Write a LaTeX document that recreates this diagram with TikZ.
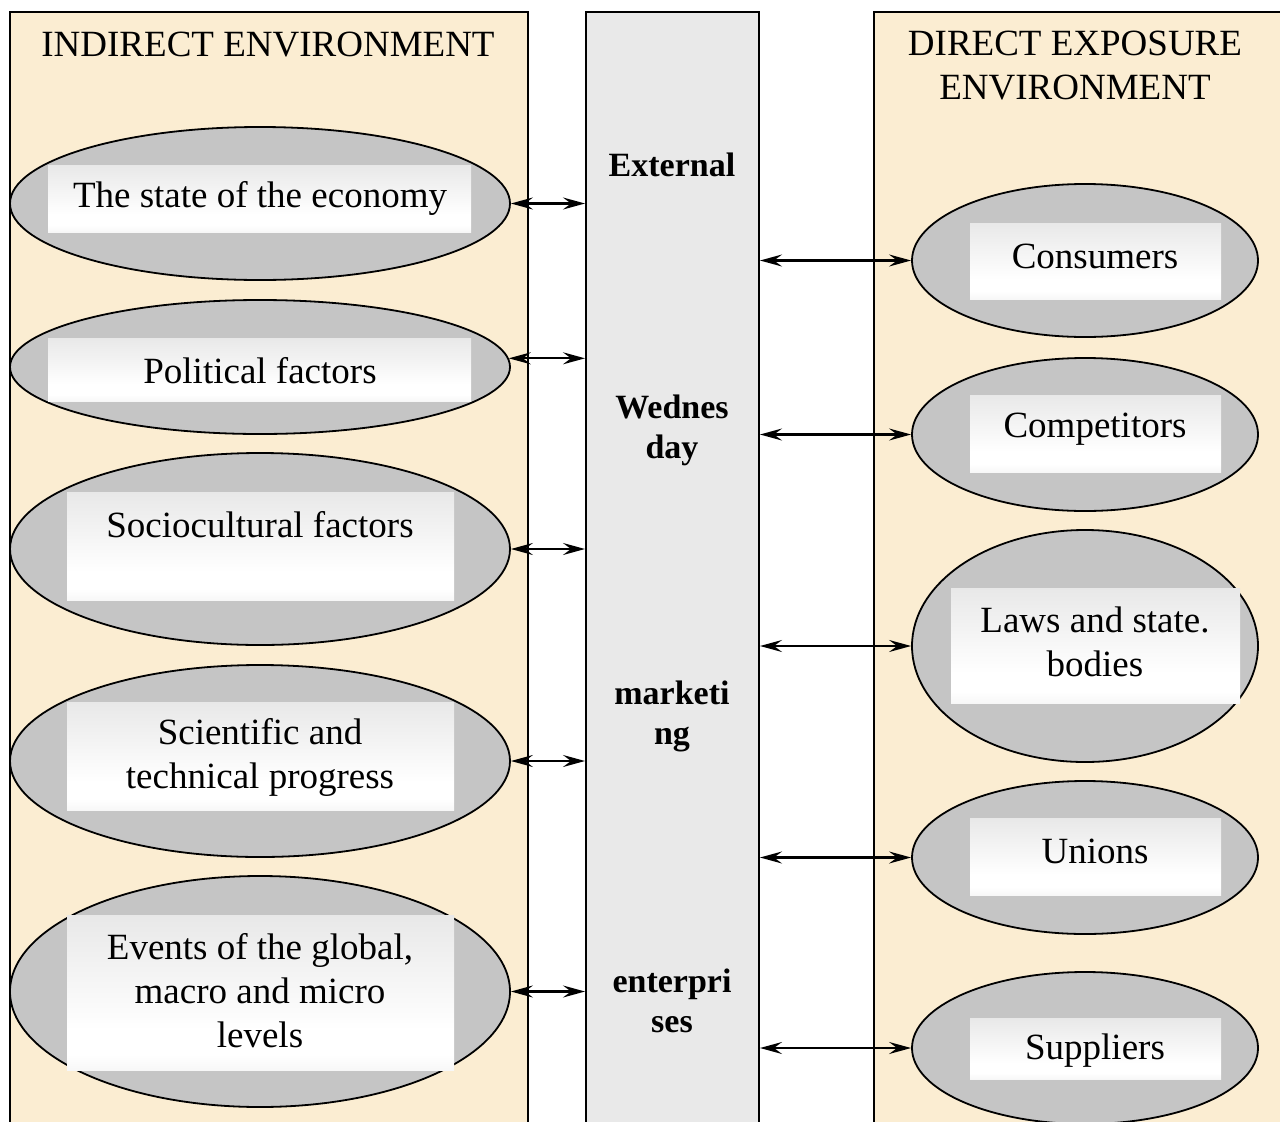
\documentclass[tikz,border=0pt]{standalone}
\usepackage{fontspec}
\setmainfont{Liberation Serif}
\usetikzlibrary{shapes.geometric,arrows.meta}
\definecolor{paper}{RGB}{251,237,210}
\definecolor{stone}{RGB}{233,233,233}
\definecolor{oval}{RGB}{197,197,197}
\pgfdeclareverticalshading{plateshade}{100bp}{color(0bp)=(gray!36); color(30bp)=(white); color(38bp)=(white); color(100bp)=(gray!30)}
\tikzset{
  panel/.style={draw, line width=2pt, fill=paper, inner sep=0pt},
  column/.style={draw, line width=2pt, fill=stone, inner sep=0pt},
  factor/.style={ellipse, draw, line width=1.8pt, fill=oval, inner sep=0pt},
  plate/.style={rectangle, inner sep=0pt, shading=plateshade},
  link/.style={{Stealth[length=22pt,width=12pt,inset=8pt]}-{Stealth[length=22pt,width=12pt,inset=8pt]}, line width=2.2pt},
  bigtxt/.style={font=\fontsize{37}{44}\selectfont, align=center, inner sep=0pt},
  midtxt/.style={font=\fontsize{34}{40}\selectfont\bfseries, align=center, inner sep=0pt}
}
\begin{document}
\begin{tikzpicture}[x=1pt,y=-1pt]
\useasboundingbox (0,0) rectangle (1280,1122);
\clip (0,0) rectangle (1280,1122);

% three columns
\node[panel, minimum width=518pt, minimum height=1140pt] (ind) at (269,582) {};
\node[column, minimum width=173pt, minimum height=1140pt] (col) at (672.5,582) {};
\node[panel, minimum width=440pt, minimum height=1140pt] (dir) at (1094,582) {};

\node[bigtxt] (indtitle) at (268,45) {INDIRECT ENVIRONMENT};
\node[bigtxt] (dirtitle) at (1075,66) {DIRECT EXPOSURE\\ENVIRONMENT};

\node[midtxt] (w1) at (672,165) {External};
\node[midtxt] (w2) at (672,430) {Wednes\\day};
\node[midtxt] (w3) at (672,716) {marketi\\ng};
\node[midtxt] (w4) at (672,1001) {enterpri\\ses};

% indirect factors
\node[factor, minimum width=500pt, minimum height=153pt] (e1) at (260,203.5) {};
\node[factor, minimum width=500pt, minimum height=134pt] (e2) at (260,367) {};
\node[factor, minimum width=500pt, minimum height=192pt] (e3) at (260,549) {};
\node[factor, minimum width=500pt, minimum height=192pt] (e4) at (260,761) {};
\node[factor, minimum width=500pt, minimum height=231pt] (e5) at (260,991.5) {};

\node[plate, minimum width=423pt, minimum height=67pt] (p1) at (259.5,198.5) {};
\node[plate, minimum width=423pt, minimum height=63pt] (p2) at (259.5,369.5) {};
\node[plate, minimum width=387pt, minimum height=108pt] (p3) at (260.5,546) {};
\node[plate, minimum width=387pt, minimum height=108pt] (p4) at (260.5,756) {};
\node[plate, minimum width=387pt, minimum height=155pt] (p5) at (260.5,992.5) {};

\node[bigtxt] (t1) at (260,198) {The state of the economy};
\node[bigtxt] (t2) at (260,371) {Political factors};
\node[bigtxt] (t3) at (260,525) {Sociocultural factors};
\node[bigtxt] (t4) at (260,757) {Scientific and\\technical progress};
\node[bigtxt] (t5) at (260,991) {Events of the global,\\macro and micro\\levels};

% direct factors
\node[factor, minimum width=346pt, minimum height=153pt] (r1) at (1085,260.5) {};
\node[factor, minimum width=346pt, minimum height=153pt] (r2) at (1085,434.5) {};
\node[factor, minimum width=346pt, minimum height=232pt] (r3) at (1085,646) {};
\node[factor, minimum width=346pt, minimum height=153pt] (r4) at (1085,857.5) {};
\node[factor, minimum width=346pt, minimum height=152pt] (r5) at (1085,1048) {};

\node[plate, minimum width=251pt, minimum height=76pt] (q1) at (1095.5,261) {};
\node[plate, minimum width=251pt, minimum height=77pt] (q2) at (1095.5,433.5) {};
\node[plate, minimum width=289pt, minimum height=115pt] (q3) at (1095.5,645.5) {};
\node[plate, minimum width=251pt, minimum height=77pt] (q4) at (1095.5,856.5) {};
\node[plate, minimum width=251pt, minimum height=61pt] (q5) at (1095.5,1048.5) {};

\node[bigtxt] (s1) at (1095,256) {Consumers};
\node[bigtxt] (s2) at (1095,429) {Competitors};
\node[bigtxt] (s3) at (1095,642) {Laws and state.\\bodies};
\node[bigtxt] (s4) at (1095,851) {Unions};
\node[bigtxt] (s5) at (1095,1051) {Suppliers};

% links to the enterprise
\draw[link] (e1.east) -- (e1.east -| col.west);
\draw[link] (e2.2) -- (e2.2 -| col.west);
\draw[link] (e3.east) -- (e3.east -| col.west);
\draw[link] (e4.east) -- (e4.east -| col.west);
\draw[link] (e5.east) -- (e5.east -| col.west);

\draw[link] (r1.west -| col.east) -- (r1.west);
\draw[link] (r2.west -| col.east) -- (r2.west);
\draw[link] (r3.west -| col.east) -- (r3.west);
\draw[link] (r4.west -| col.east) -- (r4.west);
\draw[link] (r5.west -| col.east) -- (r5.west);
\end{tikzpicture}
\end{document}
